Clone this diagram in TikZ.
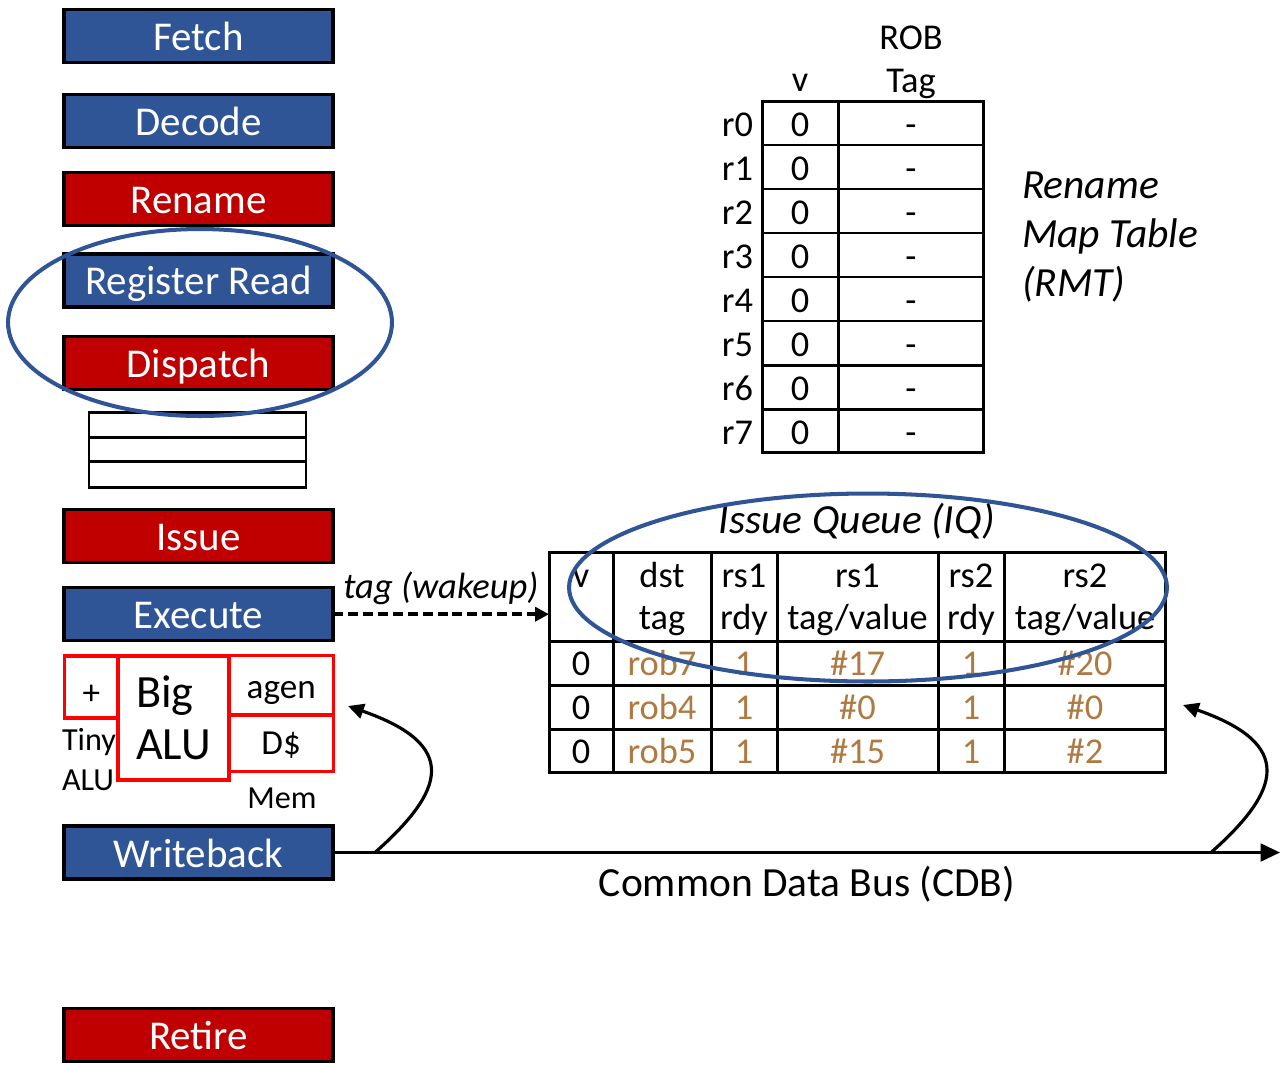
\documentclass[tikz,border=0pt]{standalone}
\usepackage{fontspec}
\setmainfont{Carlito}
\usetikzlibrary{arrows.meta}
\definecolor{stblue}{RGB}{47,85,151}
\definecolor{stred}{RGB}{192,0,0}
\definecolor{fured}{RGB}{255,0,0}
\definecolor{valbrown}{RGB}{174,122,66}
\definecolor{ringblue}{RGB}{47,85,151}
\newcommand\stagefont{\fontsize{23.3}{27}\selectfont}
\newcommand\cellfont{\fontsize{20.7}{24}\selectfont}
\newcommand\titlefont{\itshape\fontsize{23.6}{27.9}\selectfont}
\begin{document}
\begin{tikzpicture}[x=0.02cm,y=-0.02cm,
  every node/.style={inner sep=0pt,outer sep=0pt},
  stagebox/.style={draw=black,line width=1.9pt,minimum width=5.38cm,minimum height=1.06cm,
    text=white,font=\stagefont,text height=16.5pt,text depth=0pt},
  bluestage/.style={stagebox,fill=stblue},
  redstage/.style={stagebox,fill=stred},
  fubox/.style={draw=fured,line width=2pt},
  tbl/.style={line width=1.7pt,draw=black},
  cell/.style={font=\cellfont},
  val/.style={cell,text=valbrown},
  ring/.style={draw=ringblue,line width=2.3pt},
  bus/.style={line width=1.8pt,-{Triangle[length=11pt,width=10pt]}},
  wake/.style={line width=2.2pt,dash pattern=on 5.7pt off 2.8pt,-{Triangle[length=8pt,width=8pt]}},
  fb/.style={line width=1.8pt,-{Triangle[length=9pt,width=8.5pt]}}
]
\useasboundingbox (0,0) rectangle (1281,1065);

% pipeline stages
\node[bluestage] (fetch)     at (198.5,36.2)  {Fetch};
\node[bluestage] (decode)    at (198.5,121.3) {Decode};
\node[redstage]  (rename)    at (198.5,198.7) {Rename};
\node[bluestage] (regread)   at (198.5,280.5) {Register Read};
\node[redstage]  (dispatch)  at (198.5,363.3) {Dispatch};
\node[redstage]  (issue)     at (198.5,536.2) {Issue};
\node[bluestage] (execute)   at (198.5,614.2) {Execute};
\node[bluestage] (writeback) at (198.5,852.5) {Writeback};
\node[redstage]  (retire)    at (198.5,1034.7){Retire};

% dispatch buffer
\draw[line width=1.7pt] (89,412.5) rectangle (306,487.5)
  (89,437.3) -- (306,437.3) (89,461.7) -- (306,461.7);

% functional units
\node[fubox,minimum width=1.07cm,minimum height=1.25cm,font=\fontsize{20}{24}\selectfont,text height=20pt,text depth=0pt] (tinyalu) at (91.3,687) {+};
\node[fubox,minimum width=2.22cm,minimum height=2.49cm,align=left,font=\fontsize{26.3}{29.6}\selectfont] (bigalu) at (173.5,718) {Big\\ALU};
\node[fubox,minimum width=2.09cm,minimum height=1.19cm,font=\fontsize{20}{24}\selectfont,text height=14.5pt,text depth=0pt] (agen) at (281.2,685.3) {agen};
\node[fubox,minimum width=2.09cm,minimum height=1.13cm,font=\fontsize{20}{24}\selectfont,text height=13.4pt,text depth=0pt] (dcache) at (281.2,743.2) {D\$};
\node[anchor=west,align=left,font=\fontsize{18.3}{22.8}\selectfont] (tinylbl) at (62,760) {Tiny\\ALU};
\node[anchor=base,font=\fontsize{18.3}{22}\selectfont] (memlbl) at (282,808) {Mem};

% rename map table
\node[tbl,minimum width=4.44cm,minimum height=7.04cm] (rmt) at (873,277) {};
\draw[tbl] (838,101) -- (838,453);
\foreach \y in {145,189,233,277,321,365,409} \draw[tbl] (762,\y) -- (984,\y);
\node[cell,anchor=base] (rmt-vh) at (800,91) {v};
\node[cell,align=center,font=\fontsize{20.7}{24.5}\selectfont] (rmt-th) at (911,62) {ROB\\Tag};
\foreach \i in {0,...,7} {
  \node[cell,anchor=base east] (rmt-r\i) at (753,136+44*\i) {r\i};
  \node[cell,anchor=base] (rmt-v\i) at (800,136+44*\i) {0};
  \node[cell,anchor=base] (rmt-t\i) at (911,136+44*\i) {-};
}
\node[anchor=west,align=left,font=\titlefont] (rmtlbl) at (1022,237) {Rename\\Map Table\\(RMT)};

% issue queue
\node[anchor=base,font=\titlefont] (iqlbl) at (857,533) {Issue Queue (IQ)};
\node[tbl,minimum width=12.34cm,minimum height=4.42cm] (iq) at (857.5,662.5) {};
\foreach \x in {613,711,777,938,1004} \draw[tbl] (\x,552) -- (\x,773);
\foreach \y in {641,685,729} \draw[tbl] (549,\y) -- (1166,\y);
\node[cell,anchor=base] (iq-hv) at (581,587) {v};
\node[cell,align=center] (iq-hdst) at (662,599) {dst\\tag};
\node[cell,align=center] (iq-hr1) at (744,600) {rs1\\rdy};
\node[cell,align=center] (iq-ht1) at (857.5,600) {rs1\\tag/value};
\node[cell,align=center] (iq-hr2) at (971,600) {rs2\\rdy};
\node[cell,align=center] (iq-ht2) at (1085,600) {rs2\\tag/value};
\foreach \r/\yy/\tg/\va/\vb in {1/675/rob7/\#17/\#20,2/719/rob4/\#0/\#0,3/763/rob5/\#15/\#2} {
  \node[cell,anchor=base] (iq-v\r) at (581,\yy) {0};
  \node[val,anchor=base] (iq-dst\r) at (662,\yy) {\tg};
  \node[val,anchor=base] (iq-ra\r) at (744,\yy) {1};
  \node[val,anchor=base] (iq-ta\r) at (857.5,\yy) {\va};
  \node[val,anchor=base] (iq-rb\r) at (971,\yy) {1};
  \node[val,anchor=base] (iq-tb\r) at (1085,\yy) {\vb};
}

% wakeup tag broadcast
\draw[wake] (execute.east) -- (execute.east -| iq.west);
\node[anchor=base,font=\itshape\fontsize{20.8}{25}\selectfont] (wakelbl) at (441,598) {tag (wakeup)};

% common data bus with feedback paths
\coordinate (cdbend) at (1280,852.5);
\coordinate (tap1) at (375,852.5);
\coordinate (tap2) at (1211,852.5);
\coordinate (fbexec) at (348,706);
\coordinate (fbiq) at (1183,705);
\draw[bus] (writeback.east) -- (cdbend);
\draw[fb] (tap1) .. controls +(70,-62) and +(112,39) .. (fbexec);
\draw[fb] (tap2) .. controls +(70,-62) and +(112,39) .. (fbiq);
\node[anchor=base,font=\fontsize{23.6}{27}\selectfont] (cdblbl) at (807,896) {Common Data Bus (CDB)};

% highlight rings
\draw[ring] (200,322.5) ellipse [x radius=3.84cm,y radius=1.87cm];
\draw[ring] (868,587.5) ellipse [x radius=5.98cm,y radius=1.88cm];
\end{tikzpicture}
\end{document}
